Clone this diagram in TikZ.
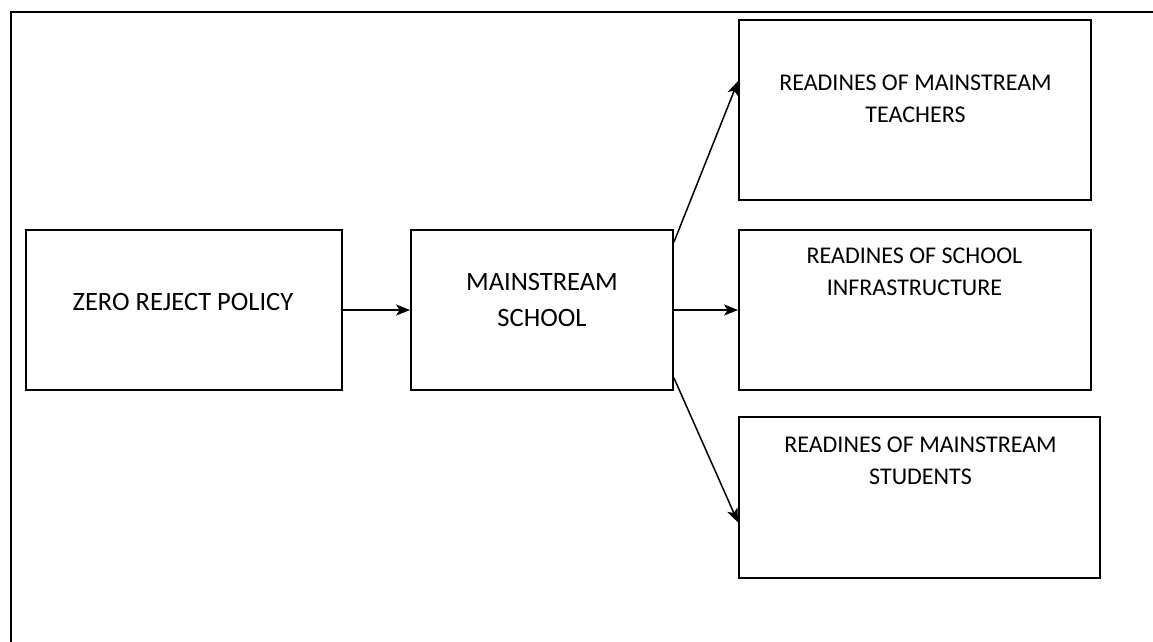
\documentclass[tikz,border=0pt]{standalone}
\usepackage{fontspec}
\setmainfont{Carlito}
\usetikzlibrary{arrows.meta,calc}
\begin{document}
\begin{tikzpicture}[x=1pt,y=-1pt,
  box/.style={draw=black,line width=1.9pt,inner sep=0pt,fill=none},
  lbl/.style={anchor=north,inner sep=0pt,align=center,font=\fontsize{24}{32}\selectfont},
  conn/.style={line width=1.5pt,-{Stealth[length=14pt,width=11pt,inset=3.5pt]}},
  frame/.style={line width=2.8pt}]
\useasboundingbox (0,0) rectangle (1153,641);
\fill[white] (0,0) rectangle (1153,641);
\draw[frame] (11,645) -- (11,12) -- (1157,12);
\node[box,minimum width=316pt,minimum height=160pt] (b1) at (184,310) {};
\node[box,minimum width=262pt,minimum height=160pt] (b2) at (542,310) {};
\node[box,minimum width=352pt,minimum height=180pt] (b3) at (915,110) {};
\node[box,minimum width=352pt,minimum height=160pt] (b4) at (915,310) {};
\node[box,minimum width=361pt,minimum height=161pt] (b5) at (919.5,497.5) {};
\node[lbl,font=\fontsize{26.5}{32}\selectfont] (t1) at (183,293) {ZERO REJECT POLICY};
\node[lbl,font=\fontsize{26.5}{36}\selectfont] (t2) at (542,273) {MAINSTREAM\\SCHOOL};
\node[lbl] (t3) at (915.5,75) {READINES OF MAINSTREAM\\TEACHERS};
\node[lbl] (t4) at (914.5,248) {READINES OF SCHOOL\\INFRASTRUCTURE};
\node[lbl] (t5) at (920.5,437) {READINES OF MAINSTREAM\\STUDENTS};
\draw[conn] (b1.east) -- (b2.west);
\draw[conn] (b2.east) -- (b4.west);
\draw[conn] ($(b2.north east)+(0,13)$) -- ($(b3.west)+(0,-29)$);
\draw[conn] ($(b2.south east)+(0,-13)$) -- ($(b5.west)+(0,25)$);
\end{tikzpicture}
\end{document}
